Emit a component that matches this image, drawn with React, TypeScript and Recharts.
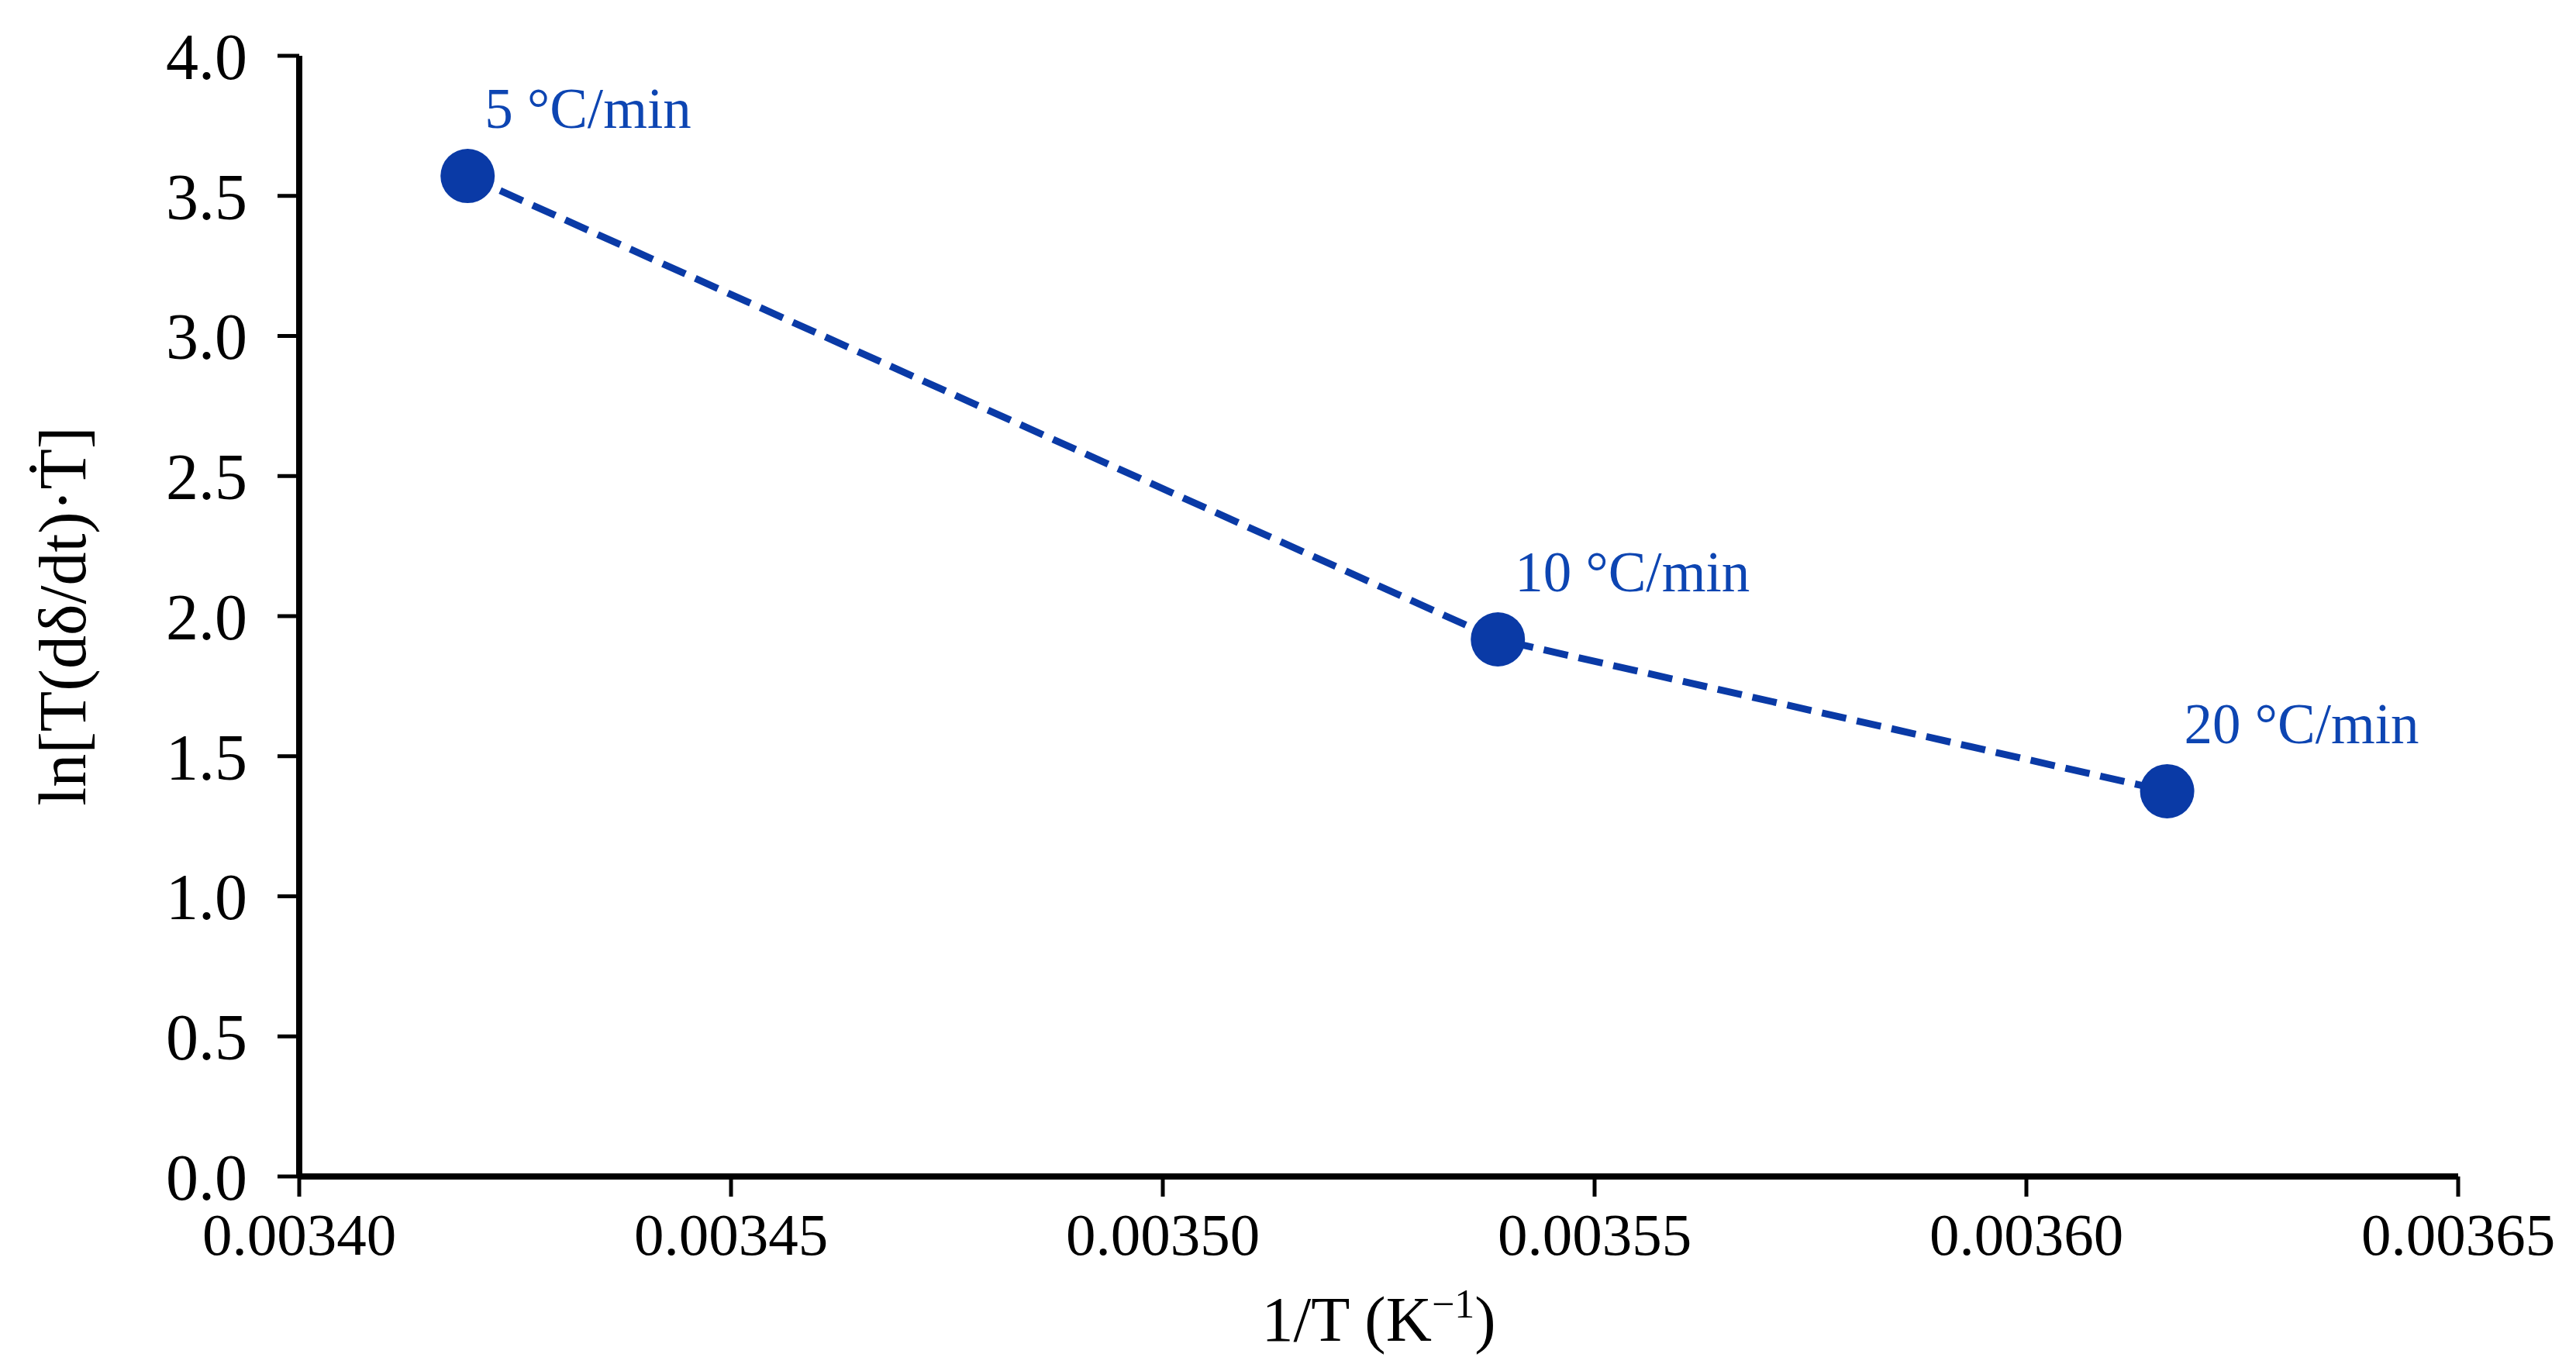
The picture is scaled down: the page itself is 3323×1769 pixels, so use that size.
import React from 'react';
import { LineChart, Line, XAxis, YAxis, LabelList } from 'recharts';

const invT = [0.0034195, 0.0035388, 0.0036163];
const lnValues = [3.571, 1.917, 1.375];
const rateLabels = ['5 °C/min', '10 °C/min', '20 °C/min'];
const xTicks = [0.0034, 0.00345, 0.0035, 0.00355, 0.0036, 0.00365];
const yTicks = [0, 0.5, 1, 1.5, 2, 2.5, 3, 3.5, 4];

const data = invT.map((x, i) => ({ x, y: lnValues[i], label: rateLabels[i] }));

const BLUE = '#0a3aa6';
const LABEL_BLUE = '#0d45b2';
const FONT = '"Liberation Serif", "Times New Roman", serif';

const PointLabel = (props: any) => {
  const { x, y, value } = props;
  return (
    <text x={x + 22} y={y - 62} fill={LABEL_BLUE} fontFamily={FONT} fontSize={73} textAnchor="start">
      {value}
    </text>
  );
};

const XTitle = (props: any) => {
  const vb = props.viewBox || {};
  const cx = vb.x + vb.width / 2;
  const by = vb.y + vb.height - 31;
  return (
    <text x={cx} y={by} textAnchor="middle" fontFamily={FONT} fontSize={82} fill="#000">
      1/T (K
      <tspan dy={-30} fontSize={52}>−1</tspan>
      <tspan dy={30}>)</tspan>
    </text>
  );
};

const YTitle = (props: any) => {
  const vb = props.viewBox || {};
  const x = 102;
  const cy = vb.y + vb.height / 2;
  return (
    <text
      x={x}
      y={cy}
      textAnchor="middle"
      fontFamily={FONT}
      fontSize={86}
      fill="#000"
      transform={`rotate(-90, ${x}, ${cy})`}
    >
      ln[T(dδ/dt)·Ṫ]
    </text>
  );
};

export default function App() {
  return (
    <div style={{ width: 3307, height: 1753, background: '#fff' }}>
      <LineChart
        width={3307}
        height={1753}
        data={data}
        margin={{ top: 64, right: 144, bottom: 0, left: 0 }}
      >
        <XAxis
          type="number"
          dataKey="x"
          domain={[0.0034, 0.00365]}
          ticks={xTicks}
          tickFormatter={(v: number) => v.toFixed(5)}
          height={243}
          tickSize={26}
          tickMargin={20}
          axisLine={{ stroke: '#000', strokeWidth: 8 }}
          tickLine={{ stroke: '#000', strokeWidth: 5 }}
          tick={{ fill: '#000', fontSize: 77, fontFamily: FONT }}
          interval={0}
          allowDataOverflow
          label={<XTitle />}
        />
        <YAxis
          type="number"
          domain={[0, 4]}
          ticks={yTicks}
          tickFormatter={(v: number) => v.toFixed(1)}
          width={378}
          tickSize={28}
          tickMargin={39}
          axisLine={{ stroke: '#000', strokeWidth: 8 }}
          tickLine={{ stroke: '#000', strokeWidth: 5 }}
          tick={{ fill: '#000', fontSize: 84, fontFamily: FONT }}
          interval={0}
          label={<YTitle />}
        />
        <Line
          type="linear"
          dataKey="y"
          stroke={BLUE}
          strokeWidth={9}
          strokeDasharray="32 14"
          dot={{ r: 35, fill: BLUE, stroke: 'none' }}
          activeDot={false}
          isAnimationActive={false}
        >
          <LabelList dataKey="label" content={<PointLabel />} />
        </Line>
      </LineChart>
    </div>
  );
}
